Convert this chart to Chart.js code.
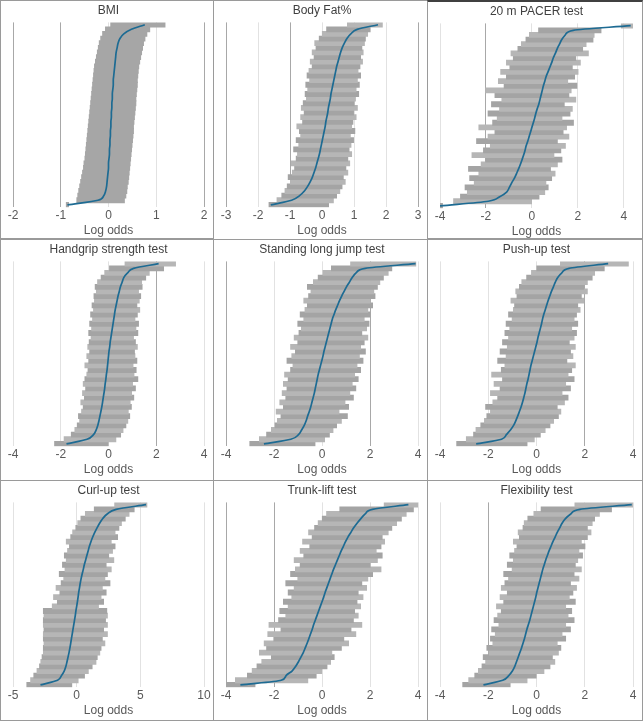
<!DOCTYPE html>
<html>
<head>
<meta charset="utf-8">
<script src="https://cdn.jsdelivr.net/npm/chart.js@4.4.1/dist/chart.umd.min.js"></script>
<style>
  body { margin: 0; background: #fff; }
  #grid { position: relative; width: 643px; height: 721px; overflow: hidden; }
  .panel { position: absolute; box-sizing: border-box; border: 1px solid #9a9a9a; background: #fff; }
  .panel canvas { display: block; }
</style>
</head>
<body>
<div id="grid"></div>
<script>
// Rows go from bottom (index 0) to top (index 39): estimate, lower and upper bound

// BMI
const bmiTicks = [-2, -1, 0, 1, 2];
const bmiEst = [-0.86, -0.22, -0.10, -0.06, -0.04, -0.03, -0.02, -0.01, 0.00, 0.00, 0.01, 0.02, 0.02, 0.03, 0.03, 0.04, 0.04, 0.05, 0.05, 0.06, 0.06, 0.07, 0.07, 0.08, 0.08, 0.09, 0.10, 0.10, 0.11, 0.12, 0.13, 0.14, 0.15, 0.16, 0.18, 0.20, 0.24, 0.32, 0.48, 0.76];
const bmiLo = [-0.88, -0.66, -0.64, -0.62, -0.60, -0.58, -0.56, -0.54, -0.52, -0.51, -0.49, -0.48, -0.47, -0.46, -0.45, -0.44, -0.43, -0.42, -0.41, -0.40, -0.39, -0.38, -0.37, -0.36, -0.35, -0.34, -0.33, -0.32, -0.31, -0.30, -0.29, -0.27, -0.25, -0.23, -0.21, -0.19, -0.16, -0.12, -0.06, 0.05];
const bmiHi = [-0.84, 0.33, 0.36, 0.38, 0.39, 0.41, 0.42, 0.43, 0.44, 0.45, 0.46, 0.47, 0.48, 0.49, 0.50, 0.51, 0.52, 0.52, 0.53, 0.54, 0.55, 0.56, 0.57, 0.57, 0.58, 0.59, 0.60, 0.60, 0.61, 0.62, 0.63, 0.65, 0.67, 0.69, 0.71, 0.73, 0.76, 0.80, 0.86, 1.18];

// Body Fat%
const fatTicks = [-3, -2, -1, 0, 1, 2, 3];
const fatEst = [-1.6, -0.95, -0.7, -0.55, -0.45, -0.37, -0.3, -0.25, -0.2, -0.16, -0.12, -0.08, -0.05, -0.02, 0.01, 0.04, 0.07, 0.1, 0.12, 0.15, 0.18, 0.2, 0.23, 0.26, 0.28, 0.31, 0.34, 0.37, 0.4, 0.43, 0.46, 0.5, 0.54, 0.58, 0.63, 0.7, 0.78, 0.9, 1.1, 1.75];
const fatLo = [-1.65, -1.4, -1.25, -1.15, -1.08, -0.98, -1.05, -0.92, -0.85, -0.95, -0.8, -0.76, -0.88, -0.72, -0.8, -0.66, -0.7, -0.78, -0.6, -0.66, -0.55, -0.64, -0.58, -0.48, -0.52, -0.44, -0.5, -0.38, -0.46, -0.4, -0.3, -0.36, -0.24, -0.3, -0.18, -0.22, -0.08, 0.0, 0.15, 0.8];
const fatHi = [0.2, 0.35, 0.45, 0.55, 0.62, 0.72, 0.66, 0.8, 0.74, 0.86, 0.8, 0.92, 0.84, 0.9, 0.98, 0.88, 1.02, 0.92, 0.96, 1.06, 0.98, 1.1, 1.0, 1.04, 1.14, 1.06, 1.16, 1.1, 1.2, 1.12, 1.18, 1.26, 1.2, 1.28, 1.24, 1.32, 1.35, 1.42, 1.5, 1.88];

// 20 m PACER test
const pacerTicks = [-4, -2, 0, 2, 4];
const pacerEst = [-4.0, -1.9, -1.4, -1.1, -0.98, -0.88, -0.76, -0.67, -0.58, -0.5, -0.43, -0.36, -0.3, -0.25, -0.18, -0.12, -0.06, 0.0, 0.06, 0.12, 0.17, 0.23, 0.3, 0.35, 0.4, 0.45, 0.5, 0.56, 0.62, 0.7, 0.78, 0.86, 0.93, 1.02, 1.1, 1.2, 1.3, 1.45, 1.8, 4.3];
const pacerLo = [-4.05, -3.4, -3.1, -2.8, -2.9, -2.5, -2.7, -2.3, -2.75, -2.2, -2.0, -2.6, -2.1, -1.8, -2.4, -1.9, -1.6, -2.3, -1.7, -1.5, -1.9, -1.4, -1.75, -1.3, -1.6, -2.0, -1.2, -1.45, -1.1, -1.35, -0.95, -1.1, -0.8, -0.9, -0.6, -0.45, -0.25, -0.1, 0.3, 3.9];
const pacerHi = [-3.9, 0.0, 0.3, 0.55, 0.7, 0.6, 0.85, 1.0, 0.8, 1.1, 1.3, 0.95, 1.25, 1.45, 1.1, 1.6, 1.35, 1.5, 1.8, 1.3, 1.65, 1.75, 1.4, 1.9, 1.6, 1.7, 1.95, 1.55, 1.85, 2.0, 1.75, 2.1, 1.9, 2.45, 2.2, 2.35, 2.65, 2.7, 3.0, 4.45];

// Handgrip strength test
const gripTicks = [-4, -2, 0, 2, 4];
const gripEst = [-1.76, -0.9, -0.63, -0.52, -0.45, -0.4, -0.36, -0.32, -0.28, -0.25, -0.22, -0.19, -0.16, -0.14, -0.11, -0.09, -0.06, -0.04, -0.02, 0.0, 0.02, 0.05, 0.07, 0.1, 0.13, 0.16, 0.19, 0.22, 0.25, 0.28, 0.32, 0.36, 0.4, 0.45, 0.5, 0.57, 0.64, 0.8, 1.05, 2.1];
const gripLo = [-2.25, -1.85, -1.55, -1.4, -1.3, -1.2, -1.25, -1.12, -1.05, -1.15, -1.0, -1.08, -0.95, -1.05, -0.98, -0.9, -0.85, -0.98, -0.82, -0.9, -0.78, -0.86, -0.8, -0.72, -0.82, -0.7, -0.78, -0.66, -0.74, -0.62, -0.68, -0.58, -0.6, -0.5, -0.55, -0.45, -0.3, -0.15, 0.05, 0.7];
const gripHi = [0.0, 0.3, 0.5, 0.6, 0.72, 0.8, 0.88, 0.82, 0.95, 0.9, 1.05, 0.96, 1.12, 1.0, 1.22, 1.06, 1.15, 1.02, 1.18, 1.1, 1.08, 1.2, 1.12, 1.04, 1.22, 1.14, 1.25, 1.1, 1.2, 1.3, 1.18, 1.28, 1.34, 1.25, 1.4, 1.38, 1.55, 1.7, 2.3, 2.8];

// Standing long jump test
const jumpTicks = [-4, -2, 0, 2, 4];
const jumpEst = [-2.42, -1.3, -0.98, -0.85, -0.74, -0.66, -0.6, -0.53, -0.47, -0.42, -0.37, -0.32, -0.28, -0.24, -0.2, -0.16, -0.11, -0.06, -0.01, 0.04, 0.08, 0.13, 0.18, 0.23, 0.28, 0.33, 0.38, 0.43, 0.5, 0.57, 0.65, 0.73, 0.82, 0.92, 1.02, 1.14, 1.26, 1.42, 1.8, 3.9];
const jumpLo = [-3.0, -2.6, -2.3, -2.1, -1.95, -1.85, -1.7, -1.9, -1.6, -1.75, -1.5, -1.65, -1.45, -1.6, -1.4, -1.55, -1.3, -1.2, -1.45, -1.25, -1.1, -1.3, -1.0, -1.15, -0.95, -0.85, -1.0, -0.75, -0.9, -0.7, -0.6, -0.75, -0.55, -0.45, -0.6, -0.35, -0.15, 0.05, 0.4, 1.2];
const jumpHi = [-0.3, 0.1, 0.3, 0.45, 0.6, 0.8, 1.05, 0.7, 1.1, 0.95, 1.3, 1.15, 1.4, 1.25, 1.5, 1.35, 1.6, 1.45, 1.7, 1.55, 1.8, 1.6, 1.75, 1.9, 1.65, 1.85, 1.95, 1.75, 2.0, 1.9, 2.1, 2.0, 2.2, 2.15, 2.3, 2.4, 2.55, 2.75, 2.9, 3.9];

// Push-up test
const pushTicks = [-4, -2, 0, 2, 4];
const pushEst = [-2.5, -1.45, -1.25, -1.08, -0.95, -0.86, -0.78, -0.71, -0.64, -0.58, -0.53, -0.48, -0.44, -0.4, -0.35, -0.31, -0.27, -0.23, -0.18, -0.13, -0.08, -0.03, 0.02, 0.06, 0.11, 0.16, 0.21, 0.25, 0.3, 0.36, 0.42, 0.48, 0.55, 0.62, 0.7, 0.78, 0.88, 1.05, 1.35, 2.97];
const pushLo = [-3.3, -2.9, -2.6, -2.5, -2.3, -2.15, -2.05, -1.9, -2.1, -1.8, -1.6, -1.9, -1.5, -1.75, -1.4, -1.85, -1.45, -1.3, -1.6, -1.25, -1.5, -1.2, -1.4, -1.15, -1.3, -1.1, -1.25, -1.0, -1.15, -0.95, -0.9, -1.05, -0.8, -0.85, -0.7, -0.6, -0.4, -0.2, 0.0, 1.0];
const pushHi = [-0.4, -0.1, 0.15, 0.35, 0.55, 0.7, 0.9, 1.0, 0.85, 1.15, 1.3, 1.05, 1.4, 1.2, 1.55, 1.3, 1.45, 1.6, 1.25, 1.5, 1.4, 1.6, 1.35, 1.55, 1.65, 1.45, 1.7, 1.55, 1.65, 1.8, 1.7, 1.95, 1.85, 2.1, 1.95, 2.1, 2.3, 2.4, 2.8, 3.8];

// Curl-up test
const curlTicks = [-5, 0, 5, 10];
const curlEst = [-2.84, -1.5, -1.2, -0.98, -0.85, -0.76, -0.68, -0.6, -0.53, -0.47, -0.41, -0.35, -0.29, -0.23, -0.17, -0.11, -0.06, 0.0, 0.06, 0.11, 0.16, 0.22, 0.28, 0.35, 0.43, 0.52, 0.6, 0.7, 0.8, 0.9, 1.0, 1.12, 1.26, 1.42, 1.6, 1.8, 2.05, 2.4, 3.1, 5.45];
const curlLo = [-3.9, -3.6, -3.35, -3.1, -2.9, -2.8, -2.7, -2.6, -2.6, -2.55, -2.6, -2.6, -2.55, -2.6, -2.6, -2.55, -2.6, -1.9, -1.5, -1.8, -1.3, -1.6, -1.2, -1.0, -1.35, -0.9, -1.1, -0.8, -0.95, -0.7, -0.55, -0.8, -0.45, -0.3, -0.05, 0.1, 0.35, 0.7, 1.4, 3.0];
const curlHi = [-0.4, 0.1, 0.6, 0.9, 1.2, 1.5, 1.6, 1.8, 1.9, 2.2, 2.0, 2.4, 2.1, 2.4, 2.25, 2.4, 2.35, 1.7, 2.1, 1.9, 2.3, 2.0, 2.6, 2.2, 2.4, 2.7, 2.3, 2.9, 2.5, 2.8, 3.0, 2.7, 3.2, 3.0, 3.3, 3.5, 3.8, 4.1, 4.5, 5.5];

// Trunk-lift test
const trunkTicks = [-4, -2, 0, 2, 4];
const trunkEst = [-3.4, -1.7, -1.5, -1.25, -1.1, -0.98, -0.88, -0.78, -0.7, -0.62, -0.55, -0.48, -0.41, -0.35, -0.28, -0.21, -0.14, -0.07, 0.0, 0.07, 0.13, 0.2, 0.27, 0.34, 0.41, 0.48, 0.56, 0.64, 0.72, 0.8, 0.89, 0.98, 1.08, 1.2, 1.32, 1.46, 1.62, 1.8, 2.1, 3.6];
const trunkLo = [-4.0, -3.6, -3.1, -2.9, -2.7, -2.5, -2.1, -2.6, -2.3, -2.4, -2.0, -2.25, -1.7, -2.2, -1.8, -1.5, -1.75, -1.4, -1.6, -1.25, -1.4, -1.15, -1.5, -1.0, -1.3, -1.1, -0.9, -1.15, -0.75, -0.9, -0.5, -0.8, -0.4, -0.55, -0.3, -0.15, 0.0, 0.2, 0.75, 2.6];
const trunkHi = [-2.8, -0.6, -0.25, 0.0, 0.2, 0.35, 0.5, 0.4, 0.8, 1.1, 0.9, 1.4, 1.2, 1.65, 1.3, 1.5, 1.35, 1.6, 1.45, 1.7, 1.5, 1.85, 1.65, 1.9, 2.1, 2.45, 2.0, 2.3, 2.5, 2.25, 2.45, 2.6, 2.5, 2.75, 2.9, 3.1, 3.3, 3.5, 3.8, 4.05];

// Flexibility test
const flexTicks = [-4, -2, 0, 2, 4];
const flexEst = [-2.2, -1.4, -1.15, -1.0, -0.9, -0.83, -0.76, -0.69, -0.62, -0.56, -0.5, -0.45, -0.4, -0.34, -0.28, -0.23, -0.18, -0.13, -0.08, -0.03, 0.01, 0.06, 0.11, 0.16, 0.21, 0.26, 0.32, 0.38, 0.45, 0.52, 0.6, 0.68, 0.77, 0.86, 0.96, 1.06, 1.2, 1.42, 1.8, 3.95];
const flexLo = [-3.05, -2.8, -2.55, -2.4, -2.25, -2.1, -2.2, -1.95, -2.05, -1.8, -1.9, -1.7, -1.85, -1.55, -1.75, -1.6, -1.45, -1.65, -1.35, -1.5, -1.2, -1.45, -1.3, -1.15, -1.35, -1.0, -1.2, -0.95, -1.1, -0.9, -0.8, -0.95, -0.7, -0.75, -0.55, -0.5, -0.35, -0.1, 0.2, 1.6];
const flexHi = [-1.1, -0.4, 0.0, 0.3, 0.55, 0.75, 0.65, 0.9, 1.0, 0.85, 1.2, 1.05, 1.4, 1.2, 1.55, 1.3, 1.45, 1.2, 1.6, 1.35, 1.5, 1.65, 1.4, 1.75, 1.55, 1.85, 1.6, 1.7, 1.9, 1.75, 2.0, 1.85, 2.1, 2.25, 2.1, 2.3, 2.4, 2.6, 3.1, 4.0];

const FONT = "'Liberation Sans', Arial, sans-serif";

// Panels: title, data, axis range, which gridlines are drawn darker
const panels = [
  { title: "BMI", est: bmiEst, lo: bmiLo, hi: bmiHi, ticks: bmiTicks, min: -2, max: 2, strong: [-2, -1, 2], flat: true },
  { title: "Body Fat%", est: fatEst, lo: fatLo, hi: fatHi, ticks: fatTicks, min: -3, max: 3, strong: [-3, -1, 3] },
  { title: "20 m PACER test", est: pacerEst, lo: pacerLo, hi: pacerHi, ticks: pacerTicks, min: -4, max: 4.4, strong: [-2] },
  { title: "Handgrip strength test", est: gripEst, lo: gripLo, hi: gripHi, ticks: gripTicks, min: -4, max: 4, strong: [2] },
  { title: "Standing long jump test", est: jumpEst, lo: jumpLo, hi: jumpHi, ticks: jumpTicks, min: -4, max: 4, strong: [-4, 2] },
  { title: "Push-up test", est: pushEst, lo: pushLo, hi: pushHi, ticks: pushTicks, min: -4, max: 4, strong: [2] },
  { title: "Curl-up test", est: curlEst, lo: curlLo, hi: curlHi, ticks: curlTicks, min: -5, max: 10, strong: [] },
  { title: "Trunk-lift test", est: trunkEst, lo: trunkLo, hi: trunkHi, ticks: trunkTicks, min: -4, max: 4, strong: [-4, -2] },
  { title: "Flexibility test", est: flexEst, lo: flexLo, hi: flexHi, ticks: flexTicks, min: -4, max: 4, strong: [-2] },
];

// Position of each panel box on the page
const boxes = [
  [0, 0, 214, 239], [213, 0, 215, 241], [427, 0, 216, 239],
  [0, 239, 214, 242], [213, 239, 215, 242], [427, 239, 216, 242],
  [0, 480, 214, 241], [213, 480, 215, 241], [427, 480, 216, 241],
];

function drawPanel(canvas, p) {
  const rowLabels = p.est.map((_, i) => i);
  const ranges = p.lo.map((v, i) => [v, p.hi[i]]);
  const shade = p.flat ? ["#a6a6a6", "#a6a6a6"] : ["#a4a4a4", "#b6b6b6"];

  new Chart(canvas.getContext("2d"), {
    data: {
      labels: rowLabels,
      datasets: [
        {
          type: "line",
          data: p.est,
          borderColor: "#1d6b93",
          borderWidth: 1.7,
          pointRadius: 0,
          cubicInterpolationMode: "monotone",
          order: 0,
        },
        {
          type: "bar",
          data: ranges,
          backgroundColor: (ctx) => shade[ctx.dataIndex % 2],
          borderWidth: 0,
          inflateAmount: 0.6,
          barPercentage: 1,
          categoryPercentage: 1,
          order: 1,
        },
      ],
    },
    options: {
      indexAxis: "y",
      responsive: false,
      animation: false,
      layout: { padding: { left: 12, right: 9, top: 0, bottom: 0 } },
      plugins: {
        legend: { display: false },
        tooltip: { enabled: false },
        title: {
          display: true,
          text: p.title,
          color: "#404040",
          font: { family: FONT, size: 12, weight: "normal" },
          padding: { top: 2, bottom: 5 },
        },
      },
      scales: {
        y: { type: "category", reverse: true, display: false },
        x: {
          type: "linear",
          min: p.min,
          max: p.max,
          afterBuildTicks: (scale) => {
            scale.ticks = p.ticks.map((v) => ({ value: v }));
          },
          grid: {
            drawTicks: false,
            color: (ctx) => (ctx.tick && p.strong.includes(ctx.tick.value) ? "#a8a8a8" : "#e2e2e2"),
          },
          border: { display: false },
          ticks: { color: "#595959", font: { family: FONT, size: 12 }, padding: 1 },
          title: {
            display: true,
            text: "Log odds",
            color: "#595959",
            font: { family: FONT, size: 12 },
            padding: { top: 0, bottom: 0 },
          },
        },
      },
    },
  });
}

const grid = document.getElementById("grid");
panels.forEach((p, i) => {
  const [x, y, w, h] = boxes[i];
  const box = document.createElement("div");
  box.className = "panel";
  box.style.left = x + "px";
  box.style.top = y + "px";
  box.style.width = w + "px";
  box.style.height = h + "px";
  if (i === 2) box.style.borderTop = "2px solid #404040";
  const canvas = document.createElement("canvas");
  canvas.width = w - 2;
  canvas.height = 237;
  box.appendChild(canvas);
  grid.appendChild(box);
  drawPanel(canvas, p);
});
</script>
</body>
</html>
